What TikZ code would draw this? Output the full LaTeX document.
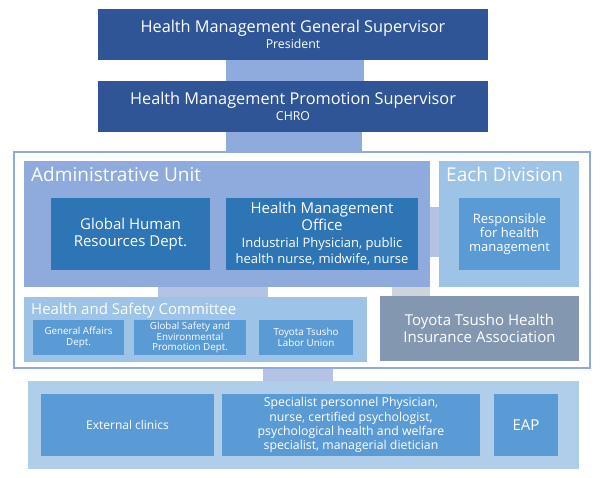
\documentclass[tikz,border=0pt]{standalone}
\usepackage{fontspec}
\setmainfont{Open Sans}
\usetikzlibrary{calc}
\definecolor{dkblue}{HTML}{2F5597}
\definecolor{connc}{HTML}{8FAADC}
\definecolor{adminc}{HTML}{8FAADC}
\definecolor{midblue}{HTML}{2E75B6}
\definecolor{ltblue}{HTML}{9DC3E6}
\definecolor{mblue}{HTML}{5B9BD5}
\definecolor{grayblue}{HTML}{8497B0}
\definecolor{bottombg}{HTML}{B0CDEA}
\definecolor{connlight}{HTML}{B4C3E4}
\definecolor{conngray}{HTML}{CFD3DC}
\newcommand\fsz[2]{\fontsize{#1}{#2}\selectfont}
\pgfdeclarelayer{bg}
\pgfsetlayers{bg,main}
\tikzset{
  box/.style={draw=none, inner sep=0pt, align=center, text=white},
  title/.style={inner sep=0pt, text=white, anchor=base west},
}
\begin{document}
\begin{tikzpicture}[x=1pt,y=-1pt]
\useasboundingbox (0,0) rectangle (600,478);
% top boxes
\node[box, fill=dkblue, minimum width=390pt, minimum height=51pt, font=\fsz{16.3}{17}] (gs) at (293,34.5)
  {Health Management General Supervisor\\[-1pt]{\fsz{12.3}{13}President}};
\node[box, fill=dkblue, minimum width=390pt, minimum height=51pt, font=\fsz{16.3}{17}] (ps) at (293,106.5)
  {Health Management Promotion Supervisor\\[-1pt]{\fsz{12.3}{13}CHRO}};
% outer frame
\node[draw=connc, line width=2.5pt, fill=white, minimum width=576pt, minimum height=216pt, inner sep=0pt] (frame) at (301.75,260) {};
% admin unit
\node[box, fill=adminc, minimum width=406pt, minimum height=126pt] (admin) at (227,224) {};
\node[title, font=\fsz{19}{22}] (admint) at (31,182) {Administrative Unit};
\node[box, fill=midblue, minimum width=159pt, minimum height=72pt, font=\fsz{15}{16.7}] (ghr) at (130.5,234)
  {Global Human\\Resources Dept.};
\node[box, fill=midblue, minimum width=192pt, minimum height=72pt, font=\fsz{15}{16.7}] (hmo) at (322,234)
  {Health Management\\Office\\{\fsz{13}{14.5}Industrial Physician, public}\\{\fsz{13}{14.5}health nurse, midwife, nurse}};
% each division
\node[box, fill=ltblue, minimum width=140pt, minimum height=126pt] (each) at (509,224) {};
\node[title, font=\fsz{19}{22}] (eacht) at (446,182) {Each Division};
\node[box, fill=mblue, minimum width=101pt, minimum height=72pt, font=\fsz{13}{14.2}] (resp) at (509.5,234)
  {Responsible\\for health\\management};
% health and safety committee
\node[box, fill=ltblue, minimum width=343pt, minimum height=65pt] (hsc) at (195.5,329.5) {};
\node[title, font=\fsz{15}{18}] (hsct) at (31,315) {Health and Safety Committee};
\node[box, fill=mblue, minimum width=91pt, minimum height=35pt, font=\fsz{9.8}{10.8}] (ga) at (78.5,337.5)
  {General Affairs\\Dept.};
\node[box, fill=mblue, minimum width=112pt, minimum height=35pt, font=\fsz{9.8}{10.8}] (gsep) at (190,337.5)
  {Global Safety and\\Environmental\\Promotion Dept.};
\node[box, fill=mblue, minimum width=94pt, minimum height=35pt, font=\fsz{9.8}{10.8}] (ttlu) at (306,337.5)
  {Toyota Tsusho\\Labor Union};
% health insurance association
\node[box, fill=grayblue, minimum width=199pt, minimum height=65pt, font=\fsz{15}{16.7}] (thia) at (479.5,328.5)
  {Toyota Tsusho Health\\Insurance Association};
% bottom
\node[box, fill=bottombg, minimum width=551pt, minimum height=88pt] (bottom) at (303.5,425) {};
\node[box, fill=mblue, minimum width=173pt, minimum height=62pt, font=\fsz{12}{14}] (ext) at (127.5,425)
  {External clinics};
\node[box, fill=mblue, minimum width=258pt, minimum height=62pt, font=\fsz{12.3}{14.3}] (spec) at (351,425)
  {Specialist personnel Physician,\\nurse, certified psychologist,\\psychological health and welfare\\specialist, managerial dietician};
\node[box, fill=mblue, minimum width=64pt, minimum height=62pt, font=\fsz{15}{17}] (eap) at (526,425)
  {EAP};
% connectors
\begin{pgfonlayer}{bg}
\draw[connc, line width=138pt] ($(gs.south)+(2,0)$) -- ($(ps.north)+(2,0)$);
\draw[connc, line width=136pt] ($(ps.south)+(1,0)$) -- ($(frame.north)+(-7.75,0)$);
\end{pgfonlayer}
\draw[connlight, line width=50pt] ($(admin.east)+(0,8)$) -- ($(each.west)+(0,8)$);
\draw[connlight, line width=110pt] ($(admin.south)+(-14,0)$) -- ($(hsc.north)+(17.5,0)$);
\draw[conngray, line width=38pt] ($(admin.south)+(184,0)$) -- ($(thia.north)+(-68.5,0)$);
\begin{pgfonlayer}{bg}
\draw[connlight, line width=70pt] ($(frame.south)+(-3.75,0)$) -- ($(bottom.north)+(-5.5,0)$);
\end{pgfonlayer}
\end{tikzpicture}
\end{document}
